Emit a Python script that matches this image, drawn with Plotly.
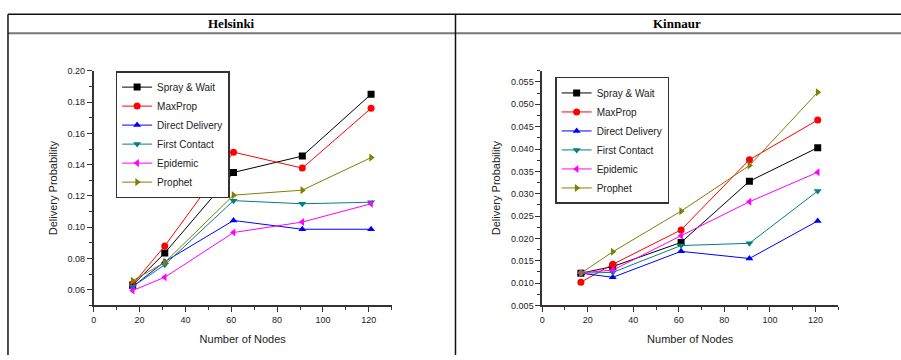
import plotly.graph_objects as go

nodes = [17, 31, 61, 91, 121]
series_names = ["Spray & Wait", "MaxProp", "Direct Delivery", "First Contact", "Epidemic", "Prophet"]

helsinki_spray = [0.063, 0.0835, 0.135, 0.1455, 0.185]
helsinki_maxprop = [0.0635, 0.088, 0.148, 0.1378, 0.176]
helsinki_direct = [0.062, 0.078, 0.1043, 0.0987, 0.0987]
helsinki_first = [0.062, 0.076, 0.117, 0.115, 0.116]
helsinki_epidemic = [0.0595, 0.068, 0.0966, 0.1033, 0.115]
helsinki_prophet = [0.0658, 0.0775, 0.1205, 0.1237, 0.1445]

kinnaur_spray = [0.0122, 0.0137, 0.0191, 0.0328, 0.0403]
kinnaur_maxprop = [0.0102, 0.0142, 0.0219, 0.0376, 0.0465]
kinnaur_direct = [0.0122, 0.0113, 0.0171, 0.0155, 0.0239]
kinnaur_first = [0.0122, 0.0124, 0.0184, 0.0189, 0.0306]
kinnaur_epidemic = [0.0123, 0.0129, 0.0206, 0.0282, 0.0348]
kinnaur_prophet = [0.0122, 0.0170, 0.0261, 0.0363, 0.0527]

panel_titles = ["Helsinki", "Kinnaur"]
x_title = "Number of Nodes"
y_title = "Delivery Probability"

colors = ["#000000", "#FF0000", "#0000FF", "#008080", "#FF00FF", "#808000"]
symbols = ["square", "circle", "triangle-up", "triangle-down", "triangle-left", "triangle-right"]

helsinki = [helsinki_spray, helsinki_maxprop, helsinki_direct, helsinki_first, helsinki_epidemic, helsinki_prophet]
kinnaur = [kinnaur_spray, kinnaur_maxprop, kinnaur_direct, kinnaur_first, kinnaur_epidemic, kinnaur_prophet]

fig = go.Figure()
for i, name in enumerate(series_names):
    fig.add_trace(go.Scatter(
        x=nodes, y=helsinki[i], name=name, mode="lines+markers",
        line=dict(color=colors[i], width=1),
        marker=dict(symbol=symbols[i], size=7, color=colors[i]),
        xaxis="x", yaxis="y", legend="legend"))
for i, name in enumerate(series_names):
    fig.add_trace(go.Scatter(
        x=nodes, y=kinnaur[i], name=name, mode="lines+markers",
        line=dict(color=colors[i], width=1),
        marker=dict(symbol=symbols[i], size=7, color=colors[i]),
        xaxis="x2", yaxis="y2", legend="legend2"))

W, H = 901, 360
tick_font = dict(family="Liberation Sans, Arial", size=9, color="#222")
title_font = dict(family="Liberation Sans, Arial", size=11, color="#222")

def xax(domain, anchor):
    return dict(domain=domain, anchor=anchor, range=[0, 130], showgrid=False, zeroline=False,
                showline=True, linecolor="#333", linewidth=1.5, ticks="outside", ticklen=5,
                tickwidth=1.2, tickcolor="#333", tick0=0, dtick=20, tickfont=tick_font,
                minor=dict(ticks="outside", ticklen=3, dtick=10, tickcolor="#333", tickwidth=1),
                title=dict(text=x_title, font=title_font, standoff=11))

def yax(domain, anchor, rng, tick0, dtick, mdtick, fmt):
    return dict(domain=domain, anchor=anchor, range=rng, showgrid=False, zeroline=False,
                showline=True, linecolor="#333", linewidth=1.5, ticks="outside", ticklen=5,
                tickwidth=1.2, tickcolor="#333", tick0=tick0, dtick=dtick, tickformat=fmt,
                tickfont=tick_font,
                minor=dict(ticks="outside", ticklen=3, tick0=rng[0], dtick=mdtick, tickcolor="#333", tickwidth=1),
                title=dict(text=y_title, font=title_font, standoff=8))

ydom = [1 - 309 / H, 1 - 67.7 / H]
legend_style = dict(bgcolor="white", bordercolor="#333", borderwidth=1.5,
                    font=dict(family="Liberation Sans, Arial", size=10, color="#222"),
                    itemwidth=30, tracegroupgap=0, xanchor="left", yanchor="top")

fig.update_layout(
    width=W, height=H, margin=dict(l=0, r=0, t=0, b=0),
    paper_bgcolor="white", plot_bgcolor="white",
    xaxis=xax([91 / W, 390 / W], "y"),
    yaxis=yax(ydom, "x", [0.05, 0.20], 0.06, 0.02, 0.01, ".2f"),
    xaxis2=xax([541 / W, 838 / W], "y2"),
    yaxis2=yax(ydom, "x2", [0.005, 0.0575], 0.005, 0.005, 0.0025, ".3f"),
    legend=dict(x=113 / W, y=1 - 68 / H, **legend_style),
    legend2=dict(x=554 / W, y=1 - 74 / H, **legend_style),
    showlegend=True,
)

# table frame
line_dark = dict(color="#111", width=1.5)
fig.add_shape(type="line", xref="paper", yref="paper", x0=5 / W, x1=1, y0=1 - 9.5 / H, y1=1 - 9.5 / H, line=line_dark)
fig.add_shape(type="line", xref="paper", yref="paper", x0=5 / W, x1=1, y0=1 - 29 / H, y1=1 - 29 / H, line=dict(color="#777", width=2))
fig.add_shape(type="line", xref="paper", yref="paper", x0=5 / W, x1=5 / W, y0=0, y1=1 - 9.5 / H, line=line_dark)
fig.add_shape(type="line", xref="paper", yref="paper", x0=454 / W, x1=454 / W, y0=0, y1=1 - 9.5 / H, line=line_dark)

header_font = dict(family="Liberation Serif, Times New Roman", size=13, color="#000")
fig.add_annotation(text="<b>" + panel_titles[0] + "</b>", xref="paper", yref="paper", x=229.5 / W, y=1 - 19 / H,
                   showarrow=False, font=header_font, xanchor="center", yanchor="middle")
fig.add_annotation(text="<b>" + panel_titles[1] + "</b>", xref="paper", yref="paper", x=676 / W, y=1 - 19 / H,
                   showarrow=False, font=header_font, xanchor="center", yanchor="middle")

fig.write_html("out.html")
